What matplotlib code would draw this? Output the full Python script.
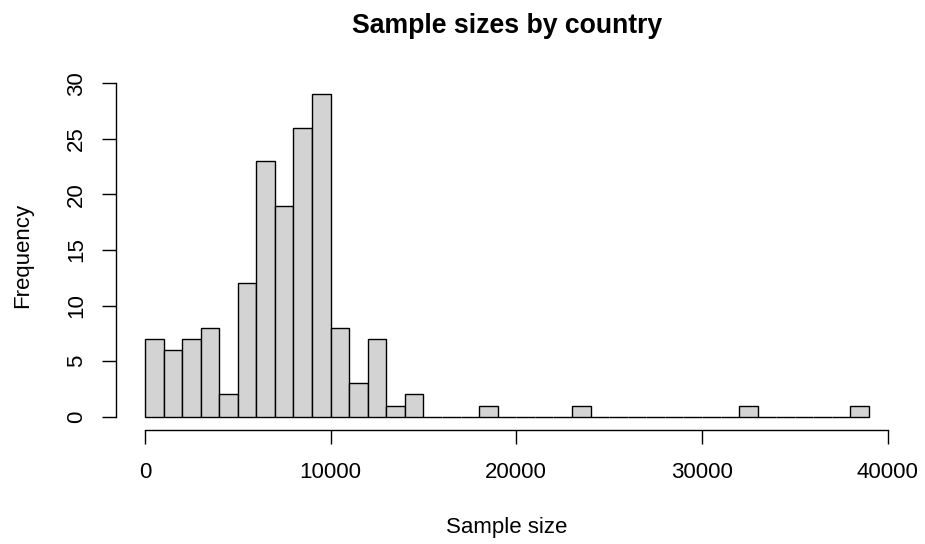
import matplotlib
matplotlib.use('Agg')
import matplotlib.pyplot as plt

# histogram of sample sizes, bins of width 1000 from 0 to 39000
bin_edges = list(range(0, 39000, 1000))
counts = [7, 6, 7, 8, 2, 12, 23, 19, 26, 29,
          8, 3, 7, 1, 2, 0, 0, 0, 1, 0,
          0, 0, 0, 1, 0, 0, 0, 0, 0, 0,
          0, 0, 1, 0, 0, 0, 0, 0, 1]
bin_width = 1000

x_ticks = [0, 10000, 20000, 30000, 40000]
y_ticks = [0, 5, 10, 15, 20, 25, 30]

plt.rcParams['font.family'] = ['Liberation Sans', 'DejaVu Sans']

fig = plt.figure(figsize=(9.25, 5.44), dpi=100)
ax = fig.add_axes([0.1254, 0.2103, 0.9708 - 0.1254, 0.8502 - 0.2103])

ax.bar(bin_edges, counts, width=bin_width, align='edge',
       color='#d3d3d3', edgecolor='black', linewidth=1.0)

# R style extents (4% padding)
ax.set_xlim(-1560, 40560)
ax.set_ylim(-1.16, 30.16)

for side in ['top', 'right']:
    ax.spines[side].set_visible(False)
ax.spines['left'].set_bounds(0, 30)
ax.spines['bottom'].set_bounds(0, 40000)
ax.spines['left'].set_linewidth(1.0)
ax.spines['bottom'].set_linewidth(1.0)

ax.set_xticks(x_ticks)
ax.set_xticklabels([str(t) for t in x_ticks])
ax.set_yticks(y_ticks)
ax.set_yticklabels([str(t) for t in y_ticks], rotation=90, va='center')
ax.tick_params(axis='both', direction='out', length=10, width=1.0,
               labelsize=16)
ax.tick_params(axis='x', pad=13.5)
ax.tick_params(axis='y', pad=11)

ax.set_xlabel('Sample size', fontsize=16)
ax.set_ylabel('Frequency', fontsize=16)
ax.xaxis.set_label_coords(0.5, -0.280)
ax.xaxis.label.set_va('center')
ax.yaxis.set_label_coords(-0.1196, 0.5)
ax.yaxis.label.set_va('center')

ax.set_title('Sample sizes by country', fontsize=19.2, fontweight='bold',
             y=1.1393, pad=0)

fig.savefig('out.png', dpi=100)
